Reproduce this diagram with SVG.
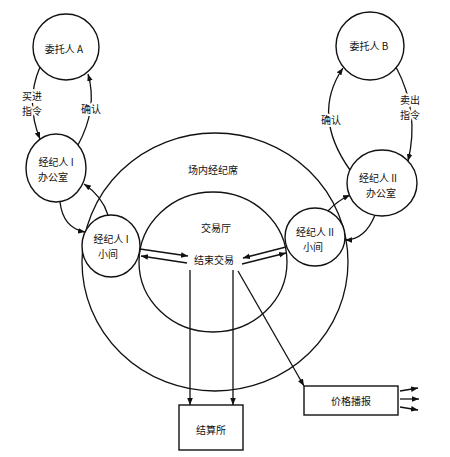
<svg xmlns="http://www.w3.org/2000/svg" width="450" height="457" viewBox="0 0 450 457">
<style>
.s{fill:none;stroke:#111;stroke-width:1.3}
.n{fill:#fff;stroke:#111;stroke-width:1.4}
.c{fill:none;stroke:#111;stroke-width:1.3}
text{font-family:"Noto Sans CJK SC","Noto Sans",sans-serif;font-size:10px;fill:#111;text-anchor:middle;dominant-baseline:central}
.h{paint-order:stroke;stroke:#fff;stroke-width:4;stroke-linejoin:round}
</style>
<defs>
<marker id="ah" viewBox="0 0 10 10" refX="10" refY="5" markerWidth="7" markerHeight="7" orient="auto" markerUnits="userSpaceOnUse">
<path d="M0,1 L10,5 L0,9 z" fill="#111"/>
</marker>
</defs>
<g id="floor">
<ellipse class="s" cx="215" cy="262" rx="133" ry="129"/>
<text x="213" y="169">场内经纪席</text>
</g>
<g id="hall">
<ellipse class="s" cx="213" cy="262" rx="74" ry="70"/>
<text x="216" y="227">交易厅</text>
<text x="214" y="259">结束交易</text>
</g>
<g id="connectors">
<path class="c" d="M40,67 Q25,102 40,139" marker-end="url(#ah)"/>
<path class="c" d="M78,145 Q98,108 88,74" marker-end="url(#ah)"/>
<path class="c" d="M350,170 Q311,115 343,68" marker-end="url(#ah)"/>
<path class="c" d="M396,67 Q420,112 408,161" marker-end="url(#ah)"/>
<path class="c" d="M60,202 Q63,228 85,232" marker-end="url(#ah)"/>
<path class="c" d="M108,215 Q102,196 84,184" marker-end="url(#ah)"/>
<path class="c" d="M328,211 Q337,201 350,195" marker-end="url(#ah)"/>
<path class="c" d="M375,215 Q365,240 345,240" marker-end="url(#ah)"/>
<path class="c" d="M140,249 L188,256" marker-end="url(#ah)"/>
<path class="c" d="M187,263 L141,256" marker-end="url(#ah)"/>
<path class="c" d="M286,247 L243,258" marker-end="url(#ah)"/>
<path class="c" d="M242,264 L286,253" marker-end="url(#ah)"/>
<path class="c" d="M190,270 L190,405" marker-end="url(#ah)"/>
<path class="c" d="M233,270 L233,405" marker-end="url(#ah)"/>
<path class="c" d="M238,271 L304,386" marker-end="url(#ah)"/>
<path class="c" d="M400,391 L418,388" marker-end="url(#ah)"/>
<path class="c" d="M400,399 L419,399" marker-end="url(#ah)"/>
<path class="c" d="M400,407 L418,410" marker-end="url(#ah)"/>
<text class="h" x="32" y="95">买进</text>
<text class="h" x="32" y="110">指令</text>
<text class="h" x="91" y="108">确认</text>
<text class="h" x="331" y="119">确认</text>
<text class="h" x="410" y="99">卖出</text>
<text class="h" x="410" y="114">指令</text>
</g>
<g id="clientA">
<circle class="n" cx="66" cy="47" r="33"/>
<text x="64" y="48">委托人 A</text>
</g>
<g id="clientB">
<circle class="n" cx="370" cy="46" r="34"/>
<text x="369" y="45">委托人 B</text>
</g>
<g id="office1">
<ellipse class="n" cx="56" cy="168" rx="30" ry="34"/>
<text x="56" y="161">经纪人 I</text>
<text x="53" y="176">办公室</text>
</g>
<g id="office2">
<ellipse class="n" cx="382" cy="183" rx="35" ry="33"/>
<text x="378" y="177">经纪人 II</text>
<text x="381" y="192">办公室</text>
</g>
<g id="booth1">
<ellipse class="n" cx="111" cy="246" rx="29" ry="31"/>
<text x="111" y="238">经纪人 I</text>
<text x="108" y="253">小间</text>
</g>
<g id="booth2">
<ellipse class="n" cx="315" cy="237" rx="30" ry="29"/>
<text x="315" y="231">经纪人 II</text>
<text x="313" y="246">小间</text>
</g>
<g id="clearing">
<rect class="n" x="179" y="405" width="64" height="45"/>
<text x="211" y="429">结算所</text>
</g>
<g id="price">
<rect class="n" x="304" y="386" width="94" height="29"/>
<text x="351" y="400">价格播报</text>
</g>
</svg>
